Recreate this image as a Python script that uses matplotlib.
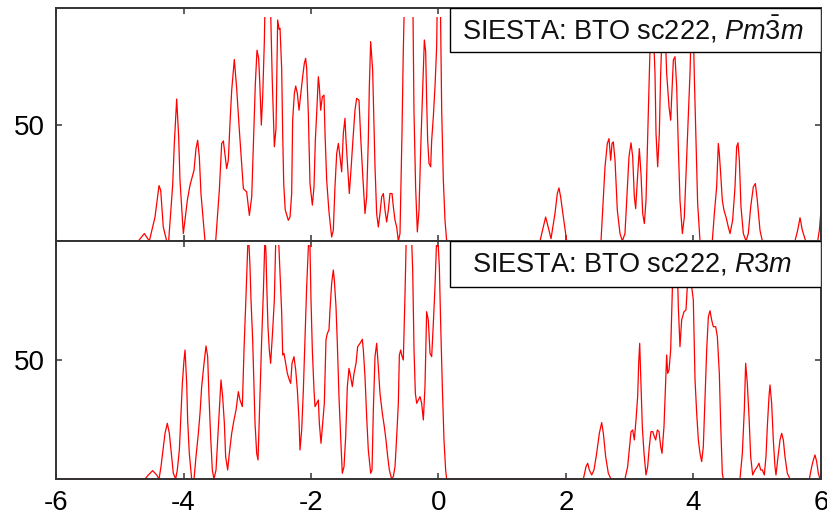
import matplotlib
matplotlib.use("Agg")
import matplotlib.pyplot as plt
from matplotlib.patches import Rectangle

plt.rcParams['font.family'] = ['Liberation Sans', 'DejaVu Sans']
plt.rcParams['mathtext.fontset'] = 'custom'
plt.rcParams['mathtext.it'] = 'Liberation Sans:italic'
plt.rcParams['mathtext.rm'] = 'Liberation Sans'

# ---------------- data: energy (eV) vs DOS ----------------
top_energy = [
    -6.0, -4.709, -4.614, -4.536, -4.447, -4.384, -4.358, -4.317, -4.264, -4.233,
    -4.170, -4.144, -4.107, -4.076, -4.055, -4.003, -3.977, -3.940, -3.898, -3.835,
    -3.804, -3.778, -3.752, -3.726, -3.663, -3.495, -3.438, -3.401, -3.375, -3.323,
    -3.297, -3.271, -3.244, -3.203, -3.166, -3.124, -3.061, -3.009, -2.967, -2.930,
    -2.894, -2.873, -2.847, -2.821, -2.805, -2.779, -2.758, -2.732, -2.716, -2.680,
    -2.643, -2.607, -2.575, -2.549, -2.523, -2.500, -2.486, -2.460, -2.444, -2.428,
    -2.405, -2.356, -2.329, -2.303, -2.288, -2.261, -2.240, -2.214, -2.188, -2.162,
    -2.131, -2.105, -2.084, -2.068, -2.042, -2.016, -1.979, -1.953, -1.932, -1.911,
    -1.885, -1.869, -1.848, -1.822, -1.796, -1.780, -1.754, -1.718, -1.676, -1.650,
    -1.624, -1.597, -1.571, -1.545, -1.519, -1.493, -1.467, -1.451, -1.425, -1.399,
    -1.373, -1.346, -1.310, -1.284, -1.247, -1.221, -1.190, -1.153, -1.127, -1.101,
    -1.085, -1.064, -1.033, -0.996, -0.970, -0.944, -0.918, -0.892, -0.865, -0.839,
    -0.813, -0.787, -0.761, -0.729, -0.708, -0.682, -0.656, -0.630, -0.604, -0.573,
    -0.552, -0.525, -0.465, -0.406, -0.385, -0.359, -0.332, -0.306, -0.275, -0.248,
    -0.222, -0.201, -0.186, -0.170, -0.149, -0.123, -0.107, -0.081, -0.055, -0.029,
    -0.013, 0.024, 0.050, 0.076, 0.102, 0.128,
    1.592, 1.644, 1.681, 1.707, 1.765, 1.827, 1.864, 1.890, 1.916, 1.958,
    2.010, 2.549, 2.612, 2.648, 2.675, 2.701, 2.722, 2.742, 2.769, 2.805,
    2.847, 2.884, 2.925, 2.967, 2.988, 3.020, 3.046, 3.072, 3.093, 3.119,
    3.150, 3.176, 3.203, 3.229, 3.255, 3.281, 3.302, 3.344, 3.396, 3.412,
    3.438, 3.464, 3.485, 3.532, 3.579, 3.616, 3.642, 3.663, 3.684, 3.710,
    3.736, 3.762, 3.788, 3.825, 3.856, 3.893, 3.945, 3.982, 4.013, 4.039,
    4.065, 4.102, 4.295, 4.327, 4.363, 4.389, 4.405, 4.426, 4.452, 4.478,
    4.510, 4.546, 4.573, 4.614, 4.651, 4.677, 4.698, 4.719, 4.745, 4.782,
    4.824, 4.860, 4.897, 4.938, 4.970, 5.001, 5.043, 5.080, 5.592, 5.634,
    5.671, 5.707, 5.760, 5.948, 5.974, 6.0,
]
top_dos = [
    0, 0, 3.2, 0, 10.3, 23.8, 21.8, 6, 0, 0,
    24, 41.9, 61, 44.8, 26.1, 3.2, 8.9, 17.5, 24, 30.4,
    39.7, 43.3, 36.2, 20.4, 0, 0, 21.8, 41.9, 43, 31.1,
    34.7, 50.5, 64.8, 78, 65.6, 47.6, 22.5, 21.1, 11, 19,
    49, 67.7, 82, 78.5, 69, 49.8, 62, 85.6, 110, 104,
    110, 68.4, 40.5, 48.3, 95, 91, 91.4, 74, 46, 24.7,
    13.5, 8.9, 10.3, 20.4, 51.9, 63.4, 66.6, 63.4, 56.2, 62.7,
    70.6, 76.3, 78.5, 74.2, 54.8, 24.7, 15.4, 23.2, 43.3, 54.8,
    70.6, 66.3, 56.2, 62, 62.7, 46.2, 26.1, 12.5, 1.7, 4.6,
    23.2, 37.6, 41.9, 36.2, 29.7, 46.2, 52.7, 43.3, 31.9, 20.4,
    30.4, 41.9, 56.2, 61.3, 60.5, 44.8, 29, 11.8, 18.9, 43.3,
    66.3, 85.7, 73.5, 31.9, 11.8, 6, 11.8, 18.9, 20.4, 13.2,
    8.2, 13.2, 20.4, 20.4, 14.6, 8.9, 6, 0, 3.2, 46.2,
    82, 115, 108, 115, 56.2, 23.2, 3.9, 13.2, 43.3, 64.8,
    86.4, 81.3, 60.5, 43.3, 33.3, 31.9, 43.3, 53.4, 66.3, 83.5,
    115, 115, 56.2, 26.1, 8.9, 0,
    0, 6, 10.3, 7.5, 1, 11.8, 20.4, 22.8, 18.9, 10.3,
    0, 0, 31.9, 41.9, 44, 34.7, 41.9, 42.6, 34.7, 13.2,
    3.2, 0, 3.2, 24.7, 36.2, 42.2, 36.2, 18.9, 13.9, 26.1,
    39.7, 29, 11.8, 7.5, 17.5, 44.8, 66.3, 110, 72, 46.2,
    31.9, 46.2, 72, 110, 72, 57.7, 51.9, 64.8, 77.8, 79.2,
    66.3, 40.5, 17.5, 3.2, 10.3, 36.2, 72, 110, 70.6, 43.3,
    16.1, 0, 0, 11.8, 23.2, 41.9, 37.6, 29, 17.5, 13.2,
    10.3, 6, 3.2, 8.9, 23.2, 40.5, 42.2, 34.7, 14.6, 3.2,
    0, 3.2, 14.6, 23.2, 24.7, 17.5, 4.6, 0, 0, 4.6,
    10, 4.6, 0, 0, 4.6, 13.2,
]

bottom_energy = [
    -6.0, -4.604, -4.552, -4.484, -4.421, -4.384, -4.353, -4.316, -4.290, -4.254,
    -4.222, -4.196, -4.160, -4.123, -4.097, -4.065, -4.044, -4.018, -3.992, -3.976,
    -3.950, -3.935, -3.909, -3.872, -3.835, -3.804, -3.767, -3.741, -3.715, -3.678,
    -3.647, -3.621, -3.600, -3.574, -3.548, -3.522, -3.490, -3.464, -3.438, -3.412,
    -3.386, -3.359, -3.339, -3.307, -3.281, -3.244, -3.208, -3.176, -3.140, -3.114,
    -3.077, -3.051, -3.020, -2.983, -2.957, -2.941, -2.915, -2.878, -2.852, -2.831,
    -2.800, -2.774, -2.748, -2.722, -2.706, -2.695, -2.675, -2.654, -2.633, -2.601,
    -2.575, -2.549, -2.512, -2.486, -2.460, -2.444, -2.424, -2.397, -2.371, -2.340,
    -2.319, -2.298, -2.267, -2.240, -2.214, -2.188, -2.173, -2.146, -2.120, -2.094,
    -2.068, -2.031, -2.016, -2.000, -1.979, -1.953, -1.937, -1.911, -1.885, -1.869,
    -1.843, -1.817, -1.791, -1.765, -1.744, -1.718, -1.702, -1.676, -1.650, -1.634,
    -1.608, -1.587, -1.561, -1.535, -1.509, -1.482, -1.456, -1.430, -1.404, -1.378,
    -1.352, -1.325, -1.294, -1.268, -1.231, -1.195, -1.179, -1.153, -1.127, -1.101,
    -1.064, -1.043, -1.022, -0.996, -0.970, -0.944, -0.918, -0.881, -0.850, -0.824,
    -0.797, -0.771, -0.735, -0.709, -0.682, -0.656, -0.630, -0.614, -0.593, -0.578,
    -0.552, -0.525, -0.499, -0.447, -0.421, -0.405, -0.384, -0.363, -0.342, -0.316,
    -0.290, -0.264, -0.238, -0.212, -0.186, -0.160, -0.133, -0.107, -0.081, -0.055,
    -0.024, -0.003, 0.013, 0.034, 0.060, 0.086, 0.112, 0.128,
    2.272, 2.314, 2.340, 2.366, 2.403, 2.439, 2.481, 2.523, 2.560, 2.586,
    2.622, 2.664, 2.706, 2.925, 2.967, 2.993, 3.020, 3.046, 3.072, 3.098,
    3.124, 3.140, 3.156, 3.176, 3.197, 3.224, 3.255, 3.281, 3.307, 3.333,
    3.360, 3.386, 3.407, 3.433, 3.459, 3.485, 3.506, 3.537, 3.558, 3.579,
    3.595, 3.616, 3.642, 3.668, 3.694, 3.736, 3.762, 3.788, 3.814, 3.851,
    3.882, 3.903, 3.935, 3.971, 3.997, 4.024, 4.050, 4.076, 4.102, 4.128,
    4.154, 4.180, 4.207, 4.233, 4.259, 4.285, 4.311, 4.348, 4.374, 4.405,
    4.426, 4.452, 4.468, 4.729, 4.766, 4.797, 4.818, 4.844, 4.871, 4.897,
    4.928, 4.965, 5.001, 5.027, 5.054, 5.080, 5.111, 5.137, 5.158, 5.184,
    5.200, 5.226, 5.252, 5.278, 5.294, 5.320, 5.357, 5.383, 5.409, 5.435,
    5.472, 5.514, 5.817, 5.854, 5.880, 5.906, 5.932, 5.958, 5.984, 6.0,
]
bottom_dos = [
    0, 0, 1.7, 3.5, 1.7, 0, 5.2, 13.6, 19.2, 23.4,
    19.2, 12.2, 2.4, 0, 3.8, 12.2, 24.8, 40.2, 50, 54.2,
    40.2, 24.8, 10.8, 0, 0, 9.4, 19.2, 27.6, 38.8, 48.6,
    55.9, 51.4, 34.6, 17.8, 3.8, 0, 3.8, 16.4, 29, 41.6,
    34.6, 23.4, 9.4, 3.8, 10.8, 19.2, 24.8, 29, 36.7, 33.2,
    30.4, 54.2, 76.6, 105, 89.2, 75.2, 58.4, 23.4, 10.8, 8,
    36, 58.4, 78, 102, 94.8, 82.2, 64, 54.2, 48.6, 62.6,
    75.2, 105, 103, 86.4, 70, 52.1, 52.8, 48.6, 44.4, 41.6,
    40.2, 48.6, 51.4, 45.8, 37.4, 24.8, 12.2, 20.6, 37.4, 58.4,
    80.8, 104, 97.6, 75.2, 54.2, 37.4, 30.4, 31.8, 33.2, 23.4,
    15, 23.4, 31.8, 58.4, 61.2, 62.6, 71, 82.2, 87.8, 83.6,
    72.4, 57, 34.6, 17.8, 2.4, 5.2, 17.8, 38.8, 46.5, 43,
    38.8, 44.4, 48.6, 55.6, 57, 58.7, 54.2, 43, 26.2, 12.2,
    2.4, 3.8, 29, 51.4, 57, 47.2, 36, 27.6, 22, 16.4,
    9.4, 3.8, 0, 1, 5.2, 17.8, 31.8, 52.1, 54.2, 52.1,
    50, 78, 110, 110, 100, 87.8, 54.2, 36, 31.8, 33.2,
    34.6, 31.8, 24.8, 38.8, 70.3, 66.8, 52.8, 51.4, 65.4, 80.8,
    105, 97.6, 89.2, 65.4, 38.8, 16.4, 3.8, 0,
    0, 5.2, 6.6, 3.8, 1.7, 3.8, 10.8, 19.2, 23.7, 19.2,
    9.4, 2.4, 0, 0, 5.2, 12.2, 19.9, 20.6, 16.4, 24.8,
    34.6, 48.6, 57, 40.2, 22, 10.8, 1.7, 5.2, 13.6, 19.9,
    19.9, 17.8, 16.4, 20.6, 19.9, 13.6, 10.8, 22, 37.4, 52.1,
    44.4, 45.8, 54.2, 79.4, 100, 100, 72.4, 55.6, 66.8, 70.3,
    71, 80.8, 100, 80.8, 75.2, 41.6, 27.6, 16.4, 10.8, 7.3,
    13.6, 33.2, 54.2, 68.2, 70.7, 66.8, 64, 64, 59.8, 44.4,
    23.4, 2.4, 0, 0, 10.8, 29, 48.6, 40.2, 26.2, 9.4,
    1.7, 3.8, 5.2, 6.6, 3.8, 3.8, 1.7, 9.4, 22, 34.6,
    39.5, 31.8, 16.4, 5.2, 1.7, 8, 16.4, 19.2, 16.4, 9.4,
    2.4, 0, 0, 5.2, 8, 10.1, 7.3, 2.4, 0, 0,
]

panel_labels = ["SIESTA: BTO sc222, $\\mathit{Pm}\\bar{\\mathit{3}}\\mathit{m}$",
                "SIESTA: BTO sc222, $\\mathit{R3m}$"]
x_ticks = [-6, -4, -2, 0, 2, 4, 6]
y_ticks = [50]

# ---------------- figure ----------------
fig = plt.figure(figsize=(8.28, 5.18), dpi=100)
left, right = 56 / 828, 821 / 828
ax_top = fig.add_axes([left, 1 - 241 / 518, right - left, (241 - 8.3) / 518])
ax_bot = fig.add_axes([left, 1 - 479 / 518, right - left, (479 - 241) / 518])

spine_col = '#333333'
for ax, xs, ys, lab, clip_top in [(ax_top, top_energy, top_dos, panel_labels[0], 96.4),
                                  (ax_bot, bottom_energy, bottom_dos, panel_labels[1], 98.2)]:
    line, = ax.plot(xs, ys, color='red', lw=0.9, zorder=2)
    clip = Rectangle((-6, -1), 12, clip_top + 1, transform=ax.transData)
    line.set_clip_path(clip)
    ax.set_xlim(-6, 6)
    ax.set_ylim(0, 100)
    ax.set_xticks(x_ticks)
    ax.set_yticks(y_ticks)
    ax.tick_params(direction='in', top=True, right=True, length=4.5, width=1.1,
                   color=spine_col, labelsize=20, pad=8)
    for s in ax.spines.values():
        s.set_color(spine_col)
        s.set_linewidth(1.4)
    # label box
    bx0 = (450 - 56) / 765
    bh = 44 / 232.4 if ax is ax_top else 46 / 238
    ax.add_patch(Rectangle((bx0, 1 - bh), 1 - bx0, bh, transform=ax.transAxes,
                           facecolor='white', edgecolor='black', lw=1.0, zorder=4))
    ax.text((bx0 + 1) / 2 - 0.004, 1 - bh / 2, lab, transform=ax.transAxes, ha='center',
            va='center', fontsize=19.5, zorder=5, color='#111111')

ax_top.tick_params(labelbottom=False)
ax_bot.set_xticklabels([str(t) for t in x_ticks])

fig.savefig('out.png', dpi=100)
